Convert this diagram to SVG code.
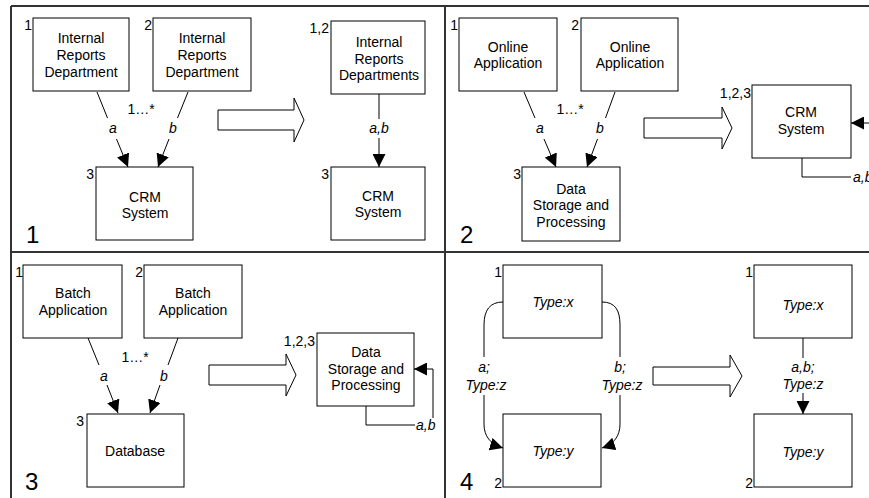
<svg xmlns="http://www.w3.org/2000/svg" width="869" height="498" viewBox="0 0 869 498">
<defs>
<style>
text{font-family:"Liberation Sans",Arial,sans-serif;font-size:14px;fill:#000}
.c{text-anchor:middle}
.e{text-anchor:end}
.i{font-style:italic}
.big{font-size:24px}
.box{fill:#fff;stroke:#000;stroke-width:1}
.frame{stroke:#333;stroke-width:2;fill:none}
.ln{stroke:#000;stroke-width:1;fill:none}
.arr{stroke:#000;stroke-width:1;fill:none;marker-end:url(#ah)}
.fat{fill:#fff;stroke:#000;stroke-width:1}
</style>
<marker id="ah" markerUnits="userSpaceOnUse" markerWidth="13" markerHeight="13" refX="13" refY="6.5" orient="auto">
<path d="M0,0 L13,6.5 L0,13 z" fill="#000"/>
</marker>
</defs>
<rect width="869" height="498" fill="#fff"/>

<g id="frame">
<path class="frame" d="M11,6 H869 M11,6 V498 M445,6 V498 M11,252 H869"/>
<text class="big" x="26" y="243">1</text>
<text class="big" x="460" y="243">2</text>
<text class="big" x="25" y="490">3</text>
<text class="big" x="460" y="490">4</text>
</g>

<g id="bigarrows">
<polygon class="fat" points="218,110 294,110 294,98 304,120 294,142 294,130 218,130"/>
<polygon class="fat" points="644,118 722,118 722,107 732,128 722,149 722,138 644,138"/>
<polygon class="fat" points="209,365 286,365 286,354 296,375 286,396 286,385 209,385"/>
<polygon class="fat" points="653,367 730,367 730,355 742,376 730,397 730,385 653,385"/>
</g>

<g id="connectors">
<!-- panel 1 -->
<path class="ln" d="M97,92 L107.5,118"/>
<path class="arr" d="M116.5,139 L128,167"/>
<path class="ln" d="M188,92 L177.5,118"/>
<path class="arr" d="M169,139 L158,167"/>
<path class="ln" d="M379,94 V119"/>
<path class="arr" d="M379,138 V167"/>
<!-- panel 2 -->
<path class="ln" d="M524,92 L535,118"/>
<path class="arr" d="M544,139 L556,167"/>
<path class="ln" d="M615,92 L605.5,118"/>
<path class="arr" d="M597.5,139 L587,167"/>
<path class="ln" d="M802,158 V177 H851"/>
<path class="arr" d="M871,170 V123 H851"/>
<!-- panel 3 -->
<path class="ln" d="M88,338 L99,365"/>
<path class="arr" d="M107,385 L118,413"/>
<path class="ln" d="M178,338 L168,365"/>
<path class="arr" d="M160,385 L150,413"/>
<path class="ln" d="M366,406 V425 H415"/>
<path class="arr" d="M433,418 V369 H414"/>
<!-- panel 4 -->
<path class="ln" d="M503,302 C490,302 484,310 484,325 V357"/>
<path class="arr" d="M484,395 V424 C484,436 490,444 503,448"/>
<path class="ln" d="M602,302 C615,302 620,310 620,325 V357"/>
<path class="arr" d="M620,395 V424 C620,436 614,444 602,448"/>
<path class="ln" d="M803,338 V358"/>
<path class="arr" d="M803,393 V414"/>
</g>

<g id="connector-labels">
<text class="c i" x="113" y="133">a</text>
<text class="c i" x="173" y="133">b</text>
<text class="c" x="141" y="114">1…*</text>
<text class="c i" x="379" y="133">a,b</text>
<text class="c i" x="540" y="133">a</text>
<text class="c i" x="600" y="133">b</text>
<text class="c" x="570" y="114">1…*</text>
<text class="i" x="853" y="182">a,b</text>
<text class="c i" x="104" y="381">a</text>
<text class="c i" x="164" y="381">b</text>
<text class="c" x="135" y="362">1…*</text>
<text class="i" x="416" y="430">a,b</text>
<text class="c i" x="484" y="372">a;</text>
<text class="c i" x="486" y="390">Type:z</text>
<text class="c i" x="620" y="372">b;</text>
<text class="c i" x="622" y="390">Type:z</text>
<text class="c i" x="803" y="372">a,b;</text>
<text class="c i" x="803" y="389">Type:z</text>
</g>

<g id="p1-n1">
<rect class="box" x="33" y="18" width="96" height="73"/>
<text class="e" x="32" y="30">1</text>
<text class="c" x="81" y="42.5">Internal</text>
<text class="c" x="81" y="59.5">Reports</text>
<text class="c" x="81" y="76.5">Department</text>
</g>
<g id="p1-n2">
<rect class="box" x="153" y="18" width="98" height="73"/>
<text class="e" x="152" y="30">2</text>
<text class="c" x="202" y="42.5">Internal</text>
<text class="c" x="202" y="59.5">Reports</text>
<text class="c" x="202" y="76.5">Department</text>
</g>
<g id="p1-n3">
<rect class="box" x="96" y="167" width="97" height="73"/>
<text class="e" x="94" y="179">3</text>
<text class="c" x="145" y="201.5">CRM</text>
<text class="c" x="145" y="218">System</text>
</g>
<g id="p1-n12">
<rect class="box" x="331" y="21" width="94" height="73"/>
<text class="e" x="329" y="33">1,2</text>
<text class="c" x="379" y="47">Internal</text>
<text class="c" x="379" y="63.5">Reports</text>
<text class="c" x="379" y="80">Departments</text>
</g>
<g id="p1-n3b">
<rect class="box" x="331" y="167" width="94" height="73"/>
<text class="e" x="329" y="179">3</text>
<text class="c" x="378" y="200.5">CRM</text>
<text class="c" x="378" y="217">System</text>
</g>

<g id="p2-n1">
<rect class="box" x="459" y="18" width="98" height="73"/>
<text class="e" x="458" y="30">1</text>
<text class="c" x="508" y="51.5">Online</text>
<text class="c" x="508" y="68">Application</text>
</g>
<g id="p2-n2">
<rect class="box" x="581" y="18" width="97" height="73"/>
<text class="e" x="579" y="30">2</text>
<text class="c" x="630" y="51.5">Online</text>
<text class="c" x="630" y="68">Application</text>
</g>
<g id="p2-n3">
<rect class="box" x="522" y="167" width="98" height="74"/>
<text class="e" x="521" y="179">3</text>
<text class="c" x="571" y="193.5">Data</text>
<text class="c" x="571" y="210">Storage and</text>
<text class="c" x="571" y="226.5">Processing</text>
</g>
<g id="p2-n123">
<rect class="box" x="752" y="85" width="99" height="73"/>
<text class="e" x="751" y="98">1,2,3</text>
<text class="c" x="801" y="117">CRM</text>
<text class="c" x="801" y="134">System</text>
</g>

<g id="p3-n1">
<rect class="box" x="23" y="265" width="99" height="73"/>
<text class="e" x="23" y="277">1</text>
<text class="c" x="73" y="298">Batch</text>
<text class="c" x="73" y="315">Application</text>
</g>
<g id="p3-n2">
<rect class="box" x="144" y="265" width="98" height="73"/>
<text class="e" x="143" y="277">2</text>
<text class="c" x="193" y="298">Batch</text>
<text class="c" x="193" y="315">Application</text>
</g>
<g id="p3-n3">
<rect class="box" x="87" y="414" width="97" height="73"/>
<text class="e" x="84" y="426">3</text>
<text class="c" x="135" y="456">Database</text>
</g>
<g id="p3-n123">
<rect class="box" x="317" y="333" width="97" height="73"/>
<text class="e" x="315" y="346">1,2,3</text>
<text class="c" x="366" y="357">Data</text>
<text class="c" x="366" y="373.5">Storage and</text>
<text class="c" x="366" y="390">Processing</text>
</g>

<g id="p4-n1">
<rect class="box" x="503" y="265" width="99" height="73"/>
<text class="e" x="502" y="277">1</text>
<text class="c i" x="553" y="306.5">Type:x</text>
</g>
<g id="p4-n2">
<rect class="box" x="503" y="414" width="98" height="73"/>
<text class="e" x="502" y="488">2</text>
<text class="c i" x="553" y="456">Type:y</text>
</g>
<g id="p4-n1b">
<rect class="box" x="754" y="265" width="98" height="73"/>
<text class="e" x="753" y="277">1</text>
<text class="c i" x="803" y="310">Type:x</text>
</g>
<g id="p4-n2b">
<rect class="box" x="754" y="414" width="98" height="73"/>
<text class="e" x="753" y="488">2</text>
<text class="c i" x="803" y="457">Type:y</text>
</g>
</svg>
